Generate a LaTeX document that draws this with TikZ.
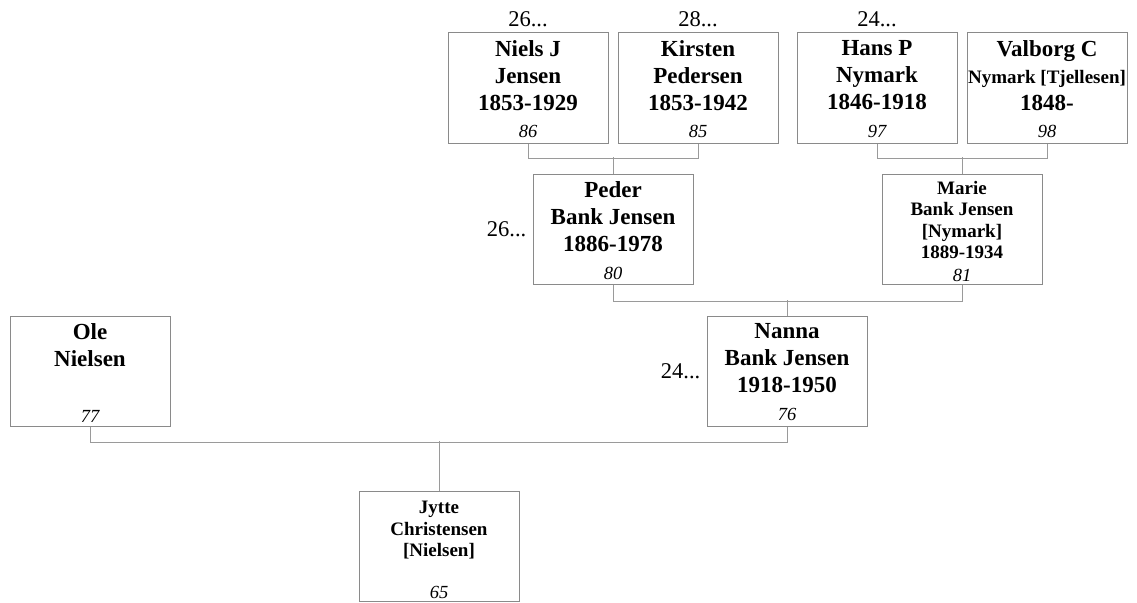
\documentclass[tikz,border=0pt]{standalone}
\usepackage{fontspec}
\setmainfont{Liberation Serif}
\usetikzlibrary{positioning}

\definecolor{framegray}{HTML}{8A8A8A}
\definecolor{linkgray}{HTML}{9A9A9A}

\newcommand{\bigname}{\fontsize{23}{27}\selectfont\bfseries}
\newcommand{\smallname}{\fontsize{19}{21.5}\selectfont\bfseries}

\begin{document}
\begin{tikzpicture}[x=1pt,y=-1pt,
  person/.style={draw=framegray, line width=1pt, minimum width=160pt, minimum height=110pt, inner sep=0pt},
  names/.style={anchor=north, align=center, inner sep=0pt},
  refnum/.style={anchor=base, inner sep=0pt, font=\fontsize{18.5}{18.5}\selectfont\itshape},
  gen/.style={inner sep=0pt, font=\fontsize{22.5}{22.5}\selectfont},
  link/.style={draw=linkgray, line width=1pt}]

\useasboundingbox (0,0) rectangle (1137,602);

% great-grandparents
\node[person] (niels) at (528,88) {};
\node[person] (kirsten) at (698,88) {};
\node[person] (hans) at (877,88) {};
\node[person] (valborg) at (1047,88) {};

\node[names, font=\bigname, yshift=-7.5pt] (nielsname) at (niels.north) {Niels J\\Jensen\\1853-1929};
\node[names, font=\bigname, yshift=-7.5pt] (kirstenname) at (kirsten.north) {Kirsten\\Pedersen\\1853-1942};
\node[names, font=\bigname, yshift=-7.5pt] (hansname) at (hans.north) {Hans P\\Nymark\\1846-1918};
\node[names, font=\bigname, yshift=-7.5pt] (valborgname) at (valborg.north) {Valborg C\\{\smallname Nymark [Tjellesen]}\\1848-};

\node[refnum, yshift=6pt] (nielsno) at (niels.south) {86};
\node[refnum, yshift=6pt] (kirstenno) at (kirsten.south) {85};
\node[refnum, yshift=6pt] (hansno) at (hans.south) {97};
\node[refnum, yshift=6pt] (valborgno) at (valborg.south) {98};

\node[gen, above=5pt of niels] (nielsgen) {26...};
\node[gen, above=5pt of kirsten] (kirstengen) {28...};
\node[gen, above=5pt of hans] (hansgen) {24...};

% grandparents
\node[person] (peder) at (613,229.5) {};
\node[person] (marie) at (962,229.5) {};

\node[names, font=\bigname, yshift=-7.5pt] (pedername) at (peder.north) {Peder\\Bank Jensen\\1886-1978};
\node[names, font=\smallname, yshift=-7pt] (mariename) at (marie.north) {Marie\\Bank Jensen\\{}[Nymark]\\1889-1934};

\node[refnum, yshift=6pt] (pederno) at (peder.south) {80};
\node[refnum, yshift=4pt] (marieno) at (marie.south) {81};

\node[gen, left=6pt of peder] (pedergen) {26...};

% parents
\node[person] (ole) at (90,371) {};
\node[person] (nanna) at (787,371) {};

\node[names, font=\bigname, yshift=-8pt] (olename) at (ole.north) {Ole\\Nielsen};
\node[names, font=\bigname, yshift=-7.5pt] (nannaname) at (nanna.north) {Nanna\\Bank Jensen\\1918-1950};

\node[refnum, yshift=4pt] (oleno) at (ole.south) {77};
\node[refnum, yshift=6pt] (nannano) at (nanna.south) {76};

\node[gen, left=6pt of nanna] (nannagen) {24...};

% child
\node[person] (jytte) at (439,546.5) {};
\node[names, font=\smallname, yshift=-10pt] (jyttename) at (jytte.north) {Jytte\\Christensen\\{}[Nielsen]};
\node[refnum, yshift=4pt] (jytteno) at (jytte.south) {65};

% family lines
\draw[link] (niels.south) -- ++(0,15) -| (kirsten.south);
\draw[link] (peder.north) -- ++(0,-17);
\draw[link] (hans.south) -- ++(0,15) -| (valborg.south);
\draw[link] (marie.north) -- ++(0,-17);
\draw[link] (peder.south) -- ++(0,16) -| (marie.south);
\draw[link] (nanna.north) -- ++(0,-16);
\draw[link] (ole.south) -- ++(0,16) -| (nanna.south);
\draw[link] (jytte.north) -- ++(0,-50);
\end{tikzpicture}
\end{document}
